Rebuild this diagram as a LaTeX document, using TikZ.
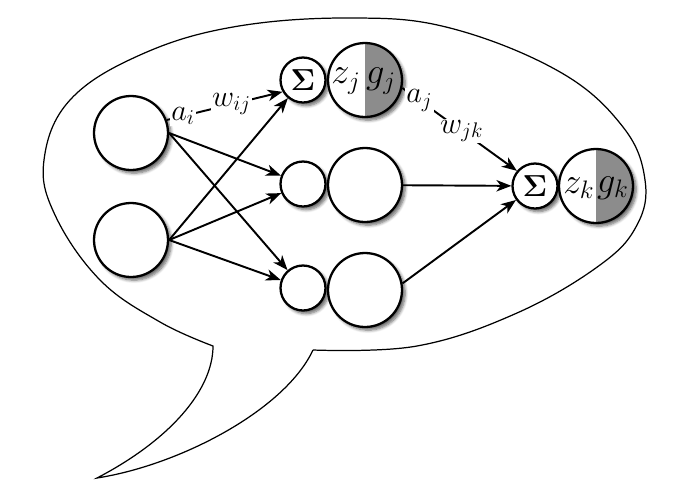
\documentclass[tikz,border=0pt]{standalone}
\usetikzlibrary{arrows.meta,shadows.blur}

\begin{document}
\begin{tikzpicture}[x=0.02cm,y=-0.02cm,
  unit/.style={circle,draw,line width=1.3pt,fill=white,minimum size=1.48cm,inner sep=0pt,
    blur shadow={shadow xshift=1.8pt,shadow yshift=-1.8pt,shadow blur steps=6,shadow opacity=60}},
  sumunit/.style={unit,minimum size=0.9cm,font=\fontsize{16}{18}\selectfont},
  actunit/.style={unit,path picture={\fill[black!45] (path picture bounding box.north) rectangle (path picture bounding box.south east);}},
  unittext/.style={inner sep=0pt,font=\fontsize{20}{24}\selectfont},
  wlabel/.style={fill=white,inner sep=0.6pt,font=\fontsize{18}{21}\selectfont},
  conn/.style={line width=1.1pt,-{Stealth[length=8.5pt,width=6.5pt,inset=2.5pt]}}]
\useasboundingbox (0,0) rectangle (700,481);
\draw[line width=0.7pt] plot[smooth,tension=0.65] coordinates {(313,350) (417,346) (517,313) (600,265) (637,225) (645,180) (623,127) (560,72) (450,28) (350,18) (233,27) (140,55) (70,100) (44,160) (55,215) (100,280) (160,322) (213,346)}
  .. controls (213,390) and (170,440) .. (97,478)
  .. controls (180,465) and (285,410) .. (313,350);
\node[unit] (in1) at (131,133) {};
\node[unit] (in2) at (131,240) {};
\node[sumunit] (h1) at (303,80) {$\mathbf{\Sigma}$};
\node[actunit] (b1) at (365,80) {};
\node[unittext] (zj) at (346,81) {$z_j$};
\node[unittext] (gj) at (381,81) {$g_j$};
\node[sumunit] (h2) at (303,184) {};
\node[unit] (b2) at (365,185) {};
\node[sumunit] (h3) at (303,288) {};
\node[unit] (b3) at (365,290) {};
\node[sumunit] (so) at (535,186) {$\mathbf{\Sigma}$};
\node[actunit] (bo) at (596,186) {};
\node[unittext] (zk) at (579,188) {$z_k$};
\node[unittext] (gk) at (613,188) {$g_k$};
\draw[conn] (in1.20) -- node[wlabel,pos=0.14] (ai) {$a_i$} node[wlabel,pos=0.56] (wij) {$w_{ij}$} (h1.210);
\draw[conn] (in1.east) -- (h2);
\draw[conn] (in1.east) -- (h3);
\draw[conn] (in2.east) -- (h1);
\draw[conn] (in2.east) -- (h2);
\draw[conn] (in2.east) -- (h3);
\draw[conn] (b1.-12) -- node[wlabel,pos=0.15] (aj) {$a_j$} node[wlabel,pos=0.52] (wjk) {$w_{jk}$} (so.140);
\draw[conn] (b2) -- (so);
\draw[conn] (b3.10) -- (so);
\end{tikzpicture}
\end{document}
